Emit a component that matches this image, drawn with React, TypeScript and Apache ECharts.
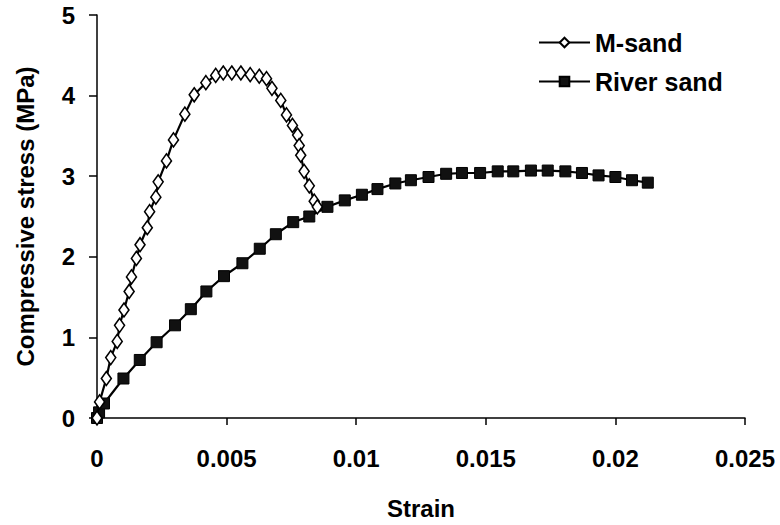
import React, { useEffect, useRef } from "react";
import * as echarts from "echarts";

const xTicks = [0, 0.005, 0.01, 0.015, 0.02, 0.025];
const yTicks = [0, 1, 2, 3, 4, 5];

const mSandStrain = [0, 0.0001, 0.00036, 0.00053, 0.00078, 0.00087, 0.00104, 0.00124, 0.00133, 0.00152, 0.00166, 0.00194, 0.00203, 0.00227, 0.00236, 0.00268, 0.00295, 0.00339, 0.00375, 0.0042, 0.00458, 0.00487, 0.0052, 0.00555, 0.00591, 0.00626, 0.00654, 0.00675, 0.00709, 0.00731, 0.00754, 0.00774, 0.0078, 0.00786, 0.00799, 0.00819, 0.00838, 0.0085];
const mSandStress = [0, 0.2, 0.49, 0.75, 0.95, 1.15, 1.34, 1.57, 1.75, 1.98, 2.15, 2.36, 2.56, 2.74, 2.93, 3.19, 3.45, 3.77, 4.01, 4.16, 4.25, 4.28, 4.28, 4.28, 4.26, 4.24, 4.21, 4.09, 3.94, 3.76, 3.63, 3.51, 3.38, 3.26, 3.06, 2.88, 2.69, 2.62];

const riverStrain = [0, 0.00008, 0.00027, 0.00102, 0.00165, 0.0023, 0.00301, 0.00362, 0.00422, 0.0049, 0.00561, 0.00628, 0.0069, 0.00757, 0.00819, 0.00889, 0.00956, 0.01022, 0.01082, 0.01151, 0.01211, 0.01279, 0.01347, 0.01408, 0.01478, 0.01546, 0.01606, 0.01674, 0.01739, 0.01807, 0.01871, 0.01935, 0.02, 0.02064, 0.02125];
const riverStress = [0, 0.07, 0.18, 0.49, 0.72, 0.94, 1.15, 1.35, 1.57, 1.76, 1.92, 2.1, 2.28, 2.43, 2.5, 2.62, 2.7, 2.77, 2.84, 2.91, 2.95, 2.99, 3.03, 3.04, 3.04, 3.06, 3.06, 3.07, 3.07, 3.06, 3.04, 3.01, 2.99, 2.95, 2.92];

const FONT = "'Liberation Sans', Arial, sans-serif";

export default function App() {
  const ref = useRef<HTMLDivElement>(null);
  useEffect(() => {
    if (!ref.current) return;
    const chart = echarts.init(ref.current, undefined, { renderer: "svg" });
    const textStyle = { color: "#000", fontWeight: "bold" as const, fontFamily: FONT, fontSize: 24 };
    chart.setOption({
      animation: false,
      backgroundColor: "#fff",
      grid: { left: 97, right: 35, top: 15, bottom: 102, containLabel: false },
      legend: {
        orient: "vertical",
        left: 533,
        top: 25,
        itemWidth: 51,
        itemHeight: 12,
        itemGap: 14,
        textStyle: { ...textStyle, fontSize: 25 },
        data: ["M-sand", "River sand"],
      },
      xAxis: {
        type: "value",
        min: xTicks[0],
        max: xTicks[xTicks.length - 1],
        interval: 0.005,
        name: "Strain",
        nameLocation: "middle",
        nameGap: 78,
        nameTextStyle: textStyle,
        splitLine: { show: false },
        axisLine: { show: true, onZero: false, lineStyle: { color: "#000", width: 1.5 } },
        axisTick: { show: true, length: 7, lineStyle: { color: "#000", width: 1.5 } },
        axisLabel: {
          ...textStyle,
          margin: 28,
          formatter: (v: number) => String(parseFloat(v.toFixed(4))),
        },
      },
      yAxis: {
        type: "value",
        min: yTicks[0],
        max: yTicks[yTicks.length - 1],
        interval: 1,
        name: "Compressive stress (MPa)",
        nameLocation: "middle",
        nameGap: 60,
        nameTextStyle: textStyle,
        splitLine: { show: false },
        axisLine: { show: true, lineStyle: { color: "#000", width: 1.5 } },
        axisTick: { show: true, length: 8, lineStyle: { color: "#000", width: 1.5 } },
        axisLabel: { ...textStyle, margin: 22 },
      },
      series: [
        {
          name: "M-sand",
          type: "line",
          data: mSandStrain.map((x, i) => [x, mSandStress[i]]),
          symbol: "diamond",
          symbolSize: [10, 14],
          showAllSymbol: true,
          lineStyle: { color: "#000", width: 2.2 },
          itemStyle: { color: "#fff", borderColor: "#000", borderWidth: 1.6 },
          z: 3,
        },
        {
          name: "River sand",
          type: "line",
          data: riverStrain.map((x, i) => [x, riverStress[i]]),
          symbol: "rect",
          symbolSize: 11,
          showAllSymbol: true,
          lineStyle: { color: "#000", width: 2.2 },
          itemStyle: { color: "#111", borderColor: "#000", borderWidth: 1 },
          z: 2,
        },
      ],
    });
    return () => chart.dispose();
  }, []);
  return (
    <div
      ref={ref}
      style={{ position: "fixed", left: 0, top: 0, width: 780, height: 525, background: "#fff" }}
    />
  );
}
